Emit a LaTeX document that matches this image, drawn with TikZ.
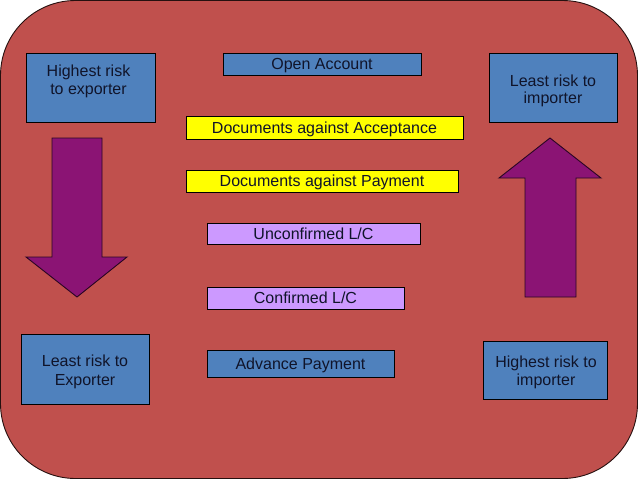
\documentclass[tikz,border=0pt]{standalone}
\usepackage{fontspec}
\setmainfont{Liberation Sans}
\definecolor{bgred}{HTML}{C0504D}
\definecolor{boxblue}{HTML}{4F81BD}
\definecolor{boxyellow}{HTML}{FFFF00}
\definecolor{boxlav}{HTML}{CC99FF}
\definecolor{arrpurple}{HTML}{8B1474}
\definecolor{txtdark}{HTML}{10142A}
\begin{document}
\begin{tikzpicture}[x=1pt,y=-1pt,
  every node/.style={font=\fontsize{16}{18}\selectfont, text=txtdark},
  bar/.style={draw=black, line width=0.9pt, inner sep=0pt, text height=11.5pt, text depth=0pt},
  bigbox/.style={draw=black, line width=0.9pt, fill=boxblue, inner sep=0pt},
  bluebar/.style={bar, fill=boxblue},
  yellowbar/.style={bar, fill=boxyellow},
  lavbar/.style={bar, fill=boxlav},
  lbl/.style={anchor=base, inner sep=0pt},
  bigarrow/.style={draw=black!70!arrpurple, line width=0.9pt, fill=arrpurple, line join=miter}]
\useasboundingbox (0,0) rectangle (638,479);
\draw[fill=bgred, draw=black!80!bgred, line width=0.9pt, rounded corners=75pt] (0.5,0.5) rectangle (637.5,478.5);

% corner boxes
\node[bigbox, minimum width=129pt, minimum height=69pt] (hre) at (90.5,87.5) {};
\node[lbl] (hre1) at (88.5,76) {Highest risk};
\node[lbl] (hre2) at (88.5,94) {to exporter};

\node[bigbox, minimum width=128pt, minimum height=69pt] (lri) at (553,87.5) {};
\node[lbl] (lri1) at (553,86) {Least risk to};
\node[lbl] (lri2) at (553,103.5) {importer};

\node[bigbox, minimum width=128pt, minimum height=70pt] (lre) at (85,369) {};
\node[lbl] (lre1) at (85,366) {Least risk to};
\node[lbl] (lre2) at (85,385) {Exporter};

\node[bigbox, minimum width=124pt, minimum height=58pt] (hri) at (545,370) {};
\node[lbl] (hri1) at (546,367) {Highest risk to};
\node[lbl] (hri2) at (546,385) {importer};

% middle bars
\node[bluebar, minimum width=198pt, minimum height=22pt] (oa) at (322,64) {Open Account};
\node[yellowbar, minimum width=277pt, minimum height=23pt] (daa) at (324.5,127.5) {Documents against Acceptance};
\node[yellowbar, minimum width=272pt, minimum height=22pt] (dap) at (322,181) {Documents against Payment};
\node[lavbar, minimum width=213pt, minimum height=21pt] (ulc) at (313.5,233.5) {Unconfirmed L/C};
\node[lavbar, minimum width=197pt, minimum height=22pt] (clc) at (305.5,298) {Confirmed L/C};
\node[bluebar, minimum width=187pt, minimum height=27pt] (ap) at (300.5,363.5) {Advance Payment};

% arrows
\draw[bigarrow] (52,138) -- (102,138) -- (102,257) -- (127,257) -- (77,297) -- (26,257) -- (52,257) -- cycle;
\draw[bigarrow] (525,297) -- (525,178) -- (499,178) -- (550,138) -- (601,178) -- (576,178) -- (576,297) -- cycle;
\end{tikzpicture}
\end{document}
